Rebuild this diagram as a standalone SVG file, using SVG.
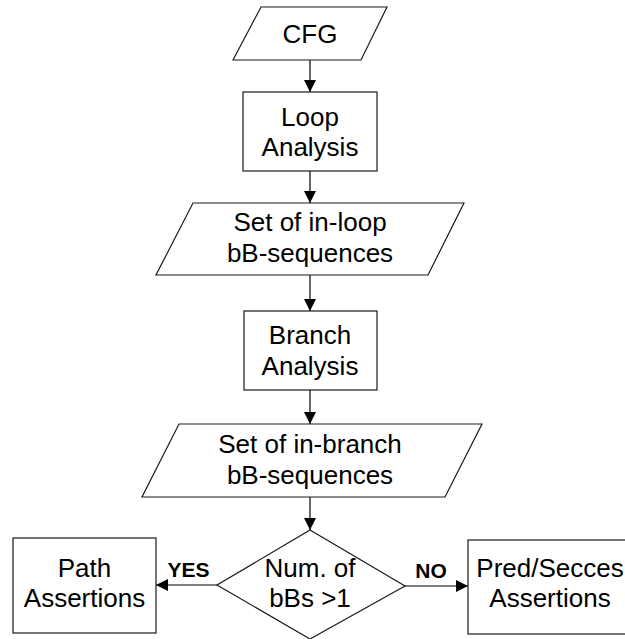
<svg xmlns="http://www.w3.org/2000/svg" width="625" height="639" viewBox="0 0 625 639">
  <style>
    .shape { fill: #ffffff; stroke: #1a1a1a; stroke-width: 1.2; }
    .label { font-family: "Liberation Sans", Arial, sans-serif; font-size: 26px; fill: #000000; text-anchor: middle; }
    .branch { font-family: "Liberation Sans", Arial, sans-serif; font-size: 21px; font-weight: bold; fill: #000000; text-anchor: middle; }
    .edge { fill: none; stroke: #000000; stroke-width: 1.2; marker-end: url(#arrow); }
  </style>
  <defs>
    <marker id="arrow" markerUnits="userSpaceOnUse" markerWidth="12" markerHeight="12" refX="12" refY="6" orient="auto">
      <path d="M0,0 L12,6 L0,12 z" fill="#000000"/>
    </marker>
  </defs>
  <rect width="625" height="639" fill="#ffffff"/>

  <g id="connectors">
    <line class="edge" x1="310" y1="60" x2="310" y2="92"/>
    <line class="edge" x1="310" y1="171" x2="310" y2="203"/>
    <line class="edge" x1="310" y1="275" x2="310" y2="311"/>
    <line class="edge" x1="310" y1="390" x2="310" y2="424"/>
    <line class="edge" x1="310" y1="497" x2="310" y2="530"/>
    <line class="edge" x1="217" y1="585" x2="156" y2="585"/>
    <line class="edge" x1="405" y1="586" x2="468" y2="586"/>
  </g>

  <g id="cfg">
    <polygon class="shape" points="261,7 387,7 361,60 233,60"/>
    <text class="label" x="310" y="42.5">CFG</text>
  </g>

  <g id="loop-analysis">
    <rect class="shape" x="243" y="92" width="134" height="79"/>
    <text class="label" x="310" y="125.5">Loop</text>
    <text class="label" x="310" y="155.5">Analysis</text>
  </g>

  <g id="in-loop-sequences">
    <polygon class="shape" points="193,203 464,203 428,275 156,275"/>
    <text class="label" x="310" y="231">Set of in-loop</text>
    <text class="label" x="310" y="262">bB-sequences</text>
  </g>

  <g id="branch-analysis">
    <rect class="shape" x="244" y="311" width="133" height="79"/>
    <text class="label" x="310" y="344">Branch</text>
    <text class="label" x="310" y="375">Analysis</text>
  </g>

  <g id="in-branch-sequences">
    <polygon class="shape" points="179,424 482,424 445,497 142,497"/>
    <text class="label" x="310" y="453">Set of in-branch</text>
    <text class="label" x="310" y="484">bB-sequences</text>
  </g>

  <g id="decision">
    <polygon class="shape" points="310,530 405,586 310,639 217,585"/>
    <text class="label" x="310" y="577">Num. of</text>
    <text class="label" x="310" y="607">bBs &gt;1</text>
  </g>

  <g id="path-assertions">
    <rect class="shape" x="13" y="538" width="143" height="95"/>
    <text class="label" x="84.5" y="577">Path</text>
    <text class="label" x="84.5" y="607">Assertions</text>
  </g>

  <g id="pred-succ-assertions">
    <rect class="shape" x="468" y="540" width="170" height="94"/>
    <text class="label" x="550" y="577">Pred/Secces</text>
    <text class="label" x="550" y="607">Assertions</text>
  </g>

  <g id="branch-labels">
    <text class="branch" x="188.5" y="577">YES</text>
    <text class="branch" x="431" y="578">NO</text>
  </g>
</svg>
